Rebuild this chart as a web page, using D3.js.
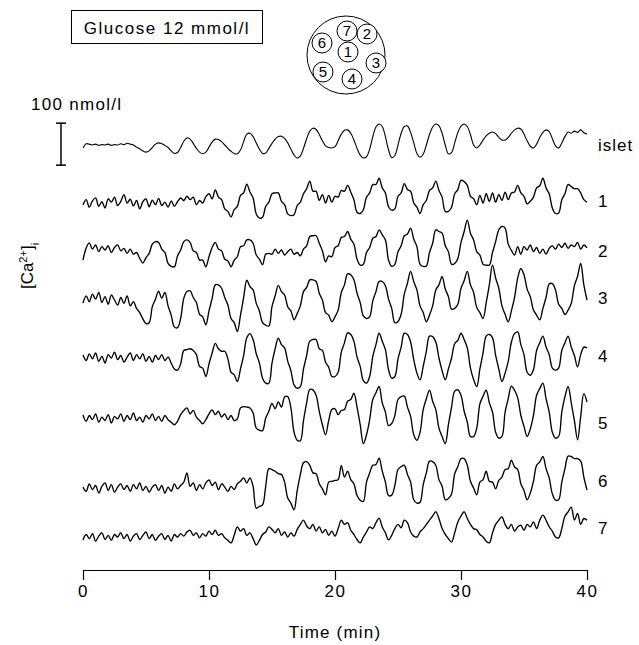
<!DOCTYPE html>
<html>
<head>
<meta charset="utf-8">
<script src="https://cdn.jsdelivr.net/npm/d3@7"></script>
<style>
  body { margin: 0; background: #fff; }
  svg text { font-family: "Liberation Sans", Arial, Helvetica, sans-serif; fill: #000; }
</style>
</head>
<body>
<svg id="chart" width="639" height="645"></svg>
<script>
// samples every 0.25 min, values are change in [Ca2+]i (nmol/l) around each trace's resting level
var timeStep = 0.25;
var traceNames = ["islet", "1", "2", "3", "4", "5", "6", "7"];
var timeTicks = [0, 10, 20, 30, 40];
var cellNumbers = ["7", "2", "6", "1", "3", "5", "4"];

var isletCa = [
  -7,3,2,0,2,-1,1,0,2,-1,
  1,0,3,1,4,2,0,-5,-9,-14,
  -17,-14,-6,2,5,3,-1,-6,-14,-20,
  -18,-6,9,17,14,4,-8,-17,-21,-17,
  -5,7,14,13,8,0,-8,-15,-20,-21,
  -12,8,26,28,20,5,-10,-20,-19,-8,
  4,14,20,21,16,5,-10,-24,-31,-26,
  -8,15,33,40,37,25,10,-2,-6,-7,
  -4,10,26,35,36,28,12,-8,-24,-31,
  -28,-10,20,43,50,44,20,-12,-30,-25,
  0,28,44,45,30,5,-20,-29,-22,0,
  25,43,50,46,28,0,-21,-18,5,30,
  45,50,44,25,0,-7,0,12,22,28,
  31,27,18,12,12,18,28,36,40,38,
  26,10,-3,-7,2,18,30,36,32,15,
  -2,-7,5,20,31,28,33,30,36,29,
  26
];

var cell1Ca = [
  -5,8,-10,5,12,-8,3,-12,10,2,
  14,-6,4,20,0,9,-7,6,-14,3,
  10,-9,7,-4,11,-6,2,-10,5,-8,
  3,12,6,16,8,14,-4,6,0,15,
  22,10,31,14,8,-14,-20,-33,-16,-8,
  18,24,45,26,12,-26,-36,-34,-8,2,
  22,24,24,4,-4,-26,-30,-28,-6,2,
  22,34,52,28,28,6,20,0,18,2,
  16,14,30,28,42,26,8,-22,-25,-16,
  14,24,44,44,59,36,24,-9,-17,-14,
  16,24,46,32,28,0,-10,-25,-4,6,
  30,36,52,30,14,-20,-20,-10,22,32,
  54,51,42,16,10,-4,18,0,22,4,
  24,2,20,6,26,8,24,26,42,24,
  16,-2,4,14,36,41,59,36,22,-12,
  -25,-24,8,22,44,39,34,34,24,8,
  2
];

var cell2Ca = [
  -24,5,17,2,12,-4,8,0,10,-6,
  6,12,-2,4,-8,2,-10,-6,-20,-31,
  -18,-8,14,20,18,2,-6,-32,-39,-40,
  -14,0,20,24,18,-2,-6,-24,-24,-40,
  -16,6,18,2,-2,-22,-26,-40,-24,-16,
  8,10,24,24,16,-12,-22,-35,-10,-8,
  -10,2,-8,0,-12,-4,2,-10,-6,-14,
  2,10,32,34,34,16,-2,-28,-14,-16,
  6,10,30,32,44,26,14,-22,-36,-34,
  -6,6,28,32,48,36,24,-24,-39,-34,
  -4,10,34,38,52,26,8,-34,-39,-38,
  -6,16,48,44,40,10,-4,-34,-32,-20,
  18,44,71,40,24,-4,-12,-34,-36,-36,
  -6,20,48,56,52,14,-1,-12,8,-10,
  8,0,12,-4,6,-8,2,-10,4,10,
  2,14,6,16,4,12,8,18,2,12,
  5
];

var cell3Ca = [
  -7,10,-4,14,2,18,-6,8,-10,12,
  0,-12,6,-8,10,-14,-4,-20,-30,-45,
  -56,-54,-16,2,21,4,18,-14,-36,-64,
  -66,-44,4,20,22,6,-6,-34,-40,-59,
  -26,4,36,36,28,6,-12,-44,-54,-75,
  -36,6,47,32,24,-8,-26,-54,-60,-62,
  -16,10,35,20,12,-16,-26,-47,-32,-14,
  20,30,48,48,44,16,0,-30,-36,-52,
  -40,-24,18,36,62,60,48,16,-6,-38,
  -44,-40,-2,20,44,44,34,2,-20,-54,
  -51,-34,14,40,68,44,24,-14,-30,-52,
  -36,-14,24,36,56,26,8,-22,-20,-10,
  28,46,68,36,18,-18,-30,-44,-6,36,
  83,52,28,-14,-34,-52,-26,6,52,75,
  60,26,8,-24,-36,-47,-20,6,38,39,
  24,-10,-20,-35,-24,-8,34,56,87,36,
  0
];

var cell4Ca = [
  7,-6,10,-2,12,-8,4,-12,8,0,
  14,-4,6,-10,2,12,-6,8,-2,10,
  -8,4,-10,6,-4,8,-6,2,-12,-26,
  -29,-14,18,20,22,18,8,-20,-24,-44,
  -14,12,35,22,16,16,-2,-34,-40,-56,
  -26,6,48,58,44,10,-12,-48,-60,-60,
  -12,22,47,32,24,-8,-30,-64,-72,-68,
  -26,6,40,44,44,22,18,-10,-22,-44,
  -44,-34,14,36,60,56,40,2,-20,-54,
  -60,-44,4,32,59,40,20,-28,-48,-44,
  -2,26,59,56,38,-4,-36,-52,-20,16,
  52,51,38,0,-30,-52,-26,0,34,42,
  59,44,24,-24,-51,-68,-26,12,52,56,
  48,6,-26,-56,-36,-8,38,58,62,32,
  8,-34,-41,-28,18,36,52,26,8,-24,
  -29,-24,18,36,52,26,6,-21,8,26,
  24
];

var cell5Ca = [
  7,-8,6,-4,10,-10,2,-6,8,-12,
  4,-2,10,-8,6,-4,12,-6,2,-10,
  6,-2,10,-6,4,-8,6,-4,-10,-16,
  -8,8,18,24,10,18,2,-6,-14,-4,
  10,19,8,16,2,10,-4,6,-6,-2,
  24,27,26,24,12,-24,-29,-30,0,16,
  35,22,38,26,50,51,24,-34,-53,-54,
  -6,36,68,67,54,16,-16,-40,-6,20,
  22,8,18,20,40,44,59,26,-16,-61,
  -40,-4,44,60,75,36,14,-18,-13,6,
  44,51,52,26,4,-40,-53,-34,20,46,
  66,40,20,-24,-44,-61,-16,26,64,67,
  54,16,-10,-44,-44,-24,34,52,66,36,
  14,-34,-48,-44,14,46,76,66,48,6,
  -20,-44,-26,6,54,70,83,46,14,-34,
  -48,-44,14,51,75,36,-6,-52,4,58,
  38
];

var cell6Ca = [
  2,-8,10,-4,6,-12,4,12,-6,8,
  -10,2,10,-4,6,-8,8,-2,12,-6,
  4,-10,2,8,-6,6,-12,2,-8,10,
  -2,6,14,36,4,12,-6,8,-2,12,
  19,6,14,-4,10,2,-8,4,-4,10,
  16,24,12,24,4,-48,-44,-40,4,46,
  44,40,34,32,14,-24,-36,-52,-6,32,
  60,63,54,36,34,10,-2,-16,14,16,
  18,20,54,26,40,20,10,-18,-29,-32,
  14,36,54,56,71,40,14,-18,-17,6,
  44,51,54,32,14,-28,-36,-34,8,36,
  64,63,54,20,4,-28,-25,-14,34,51,
  70,70,54,16,0,-16,14,20,40,16,
  14,-2,18,26,44,46,66,50,44,10,
  -6,-28,-12,16,54,62,75,46,24,-14,
  -29,-28,14,46,76,75,70,70,64,26,
  -5
];

var cell7Ca = [
  -7,6,-4,8,-10,2,10,-6,4,-8,
  6,0,10,-4,6,-10,2,8,-6,4,
  12,-4,6,-8,2,8,-6,4,-10,6,
  0,8,2,12,16,4,10,-2,8,2,
  14,6,16,4,8,-2,-8,-14,4,24,
  14,20,4,10,-4,-19,-8,6,12,24,
  18,10,20,4,12,0,10,2,18,30,
  40,26,20,30,14,24,10,18,4,14,
  2,20,40,30,34,16,6,-6,-14,0,
  12,24,20,34,45,24,10,-7,4,20,
  30,22,40,34,12,2,0,12,20,30,
  40,50,60,44,20,6,-4,-12,10,36,
  50,60,44,30,20,17,6,0,-10,-14,
  10,30,40,48,30,20,30,14,24,28,
  16,30,24,36,20,40,52,40,24,14,
  0,-2,20,50,60,71,40,56,30,44,
  40
];

var traces = [isletCa, cell1Ca, cell2Ca, cell3Ca, cell4Ca, cell5Ca, cell6Ca, cell7Ca];

// layout
var laneY = [145, 203, 250, 300, 358, 418, 488, 537];
var labelY = [145, 201, 251, 298, 356, 423, 481, 528];
var axisY = 570;
var font = 17;

var svg = d3.select("#chart");

var x = d3.scaleLinear().domain([0, 40]).range([83, 587]);
// 100 nmol/l spans 42 px
var dy = d3.scaleLinear().domain([0, 100]).range([0, -42]);

var line = d3.line()
  .x(function(d, i) { return x(i * timeStep); })
  .y(function(d) { return dy(d); })
  .curve(d3.curveCatmullRom.alpha(0.5));

var lanes = svg.selectAll("g.lane")
  .data(traces)
  .enter()
    .append("g")
      .attr("class", "lane")
      .attr("transform", function(d, i) { return "translate(0," + laneY[i] + ")"; });

lanes.append("path")
  .attr("fill", "none")
  .attr("stroke", "#000")
  .attr("stroke-width", function(d, i) { return i === 0 ? 1.1 : 1.35; })
  .attr("stroke-linejoin", "round")
  .attr("d", line);

svg.selectAll("text.name")
  .data(traceNames)
  .enter()
    .append("text")
      .attr("class", "name")
      .attr("x", 598)
      .attr("y", function(d, i) { return labelY[i]; })
      .attr("dy", "0.35em")
      .style("font-size", font + "px")
      .style("letter-spacing", "1px")
      .text(function(d) { return d; });

// time axis
var axis = svg.append("g")
  .attr("transform", "translate(0," + axisY + ")")
  .call(d3.axisBottom(x).tickValues(timeTicks).tickSize(10).tickSizeOuter(0).tickPadding(5));
axis.select(".domain").attr("stroke", "#000").attr("stroke-width", 1.2);
axis.selectAll(".tick line").attr("stroke", "#000").attr("stroke-width", 1.2);
axis.selectAll(".tick text")
  .attr("fill", "#000")
  .style("font-family", "\"Liberation Sans\", Arial, sans-serif")
  .style("font-size", font + "px")
  .style("letter-spacing", "1.5px");

svg.append("text")
  .attr("x", 335)
  .attr("y", 638)
  .attr("text-anchor", "middle")
  .style("font-size", font + "px")
  .style("letter-spacing", "1.2px")
  .text("Time (min)");

// y label
var yl = svg.append("text")
  .attr("transform", "translate(33,266) rotate(-90)")
  .attr("text-anchor", "middle")
  .style("font-size", font + "px");
yl.append("tspan").text("[Ca");
yl.append("tspan").attr("baseline-shift", "super").style("font-size", "11px").text("2+");
yl.append("tspan").text("]");
yl.append("tspan").attr("baseline-shift", "sub").style("font-size", "11px").text("i");

// scale bar
var bar = svg.append("g").attr("stroke", "#000").attr("stroke-width", 1.5);
bar.append("line").attr("x1", 61).attr("x2", 61).attr("y1", laneY[0] + dy(52)).attr("y2", laneY[0] + dy(-48));
bar.append("line").attr("x1", 56).attr("x2", 66).attr("y1", laneY[0] + dy(52)).attr("y2", laneY[0] + dy(52));
bar.append("line").attr("x1", 56).attr("x2", 66).attr("y1", laneY[0] + dy(-48)).attr("y2", laneY[0] + dy(-48));
svg.append("text")
  .attr("x", 31)
  .attr("y", 110)
  .style("font-size", font + "px")
  .style("letter-spacing", "1.3px")
  .text("100 nmol/l");

// glucose box
svg.append("rect")
  .attr("x", 71.5).attr("y", 10.5).attr("width", 191).attr("height", 33)
  .attr("fill", "none").attr("stroke", "#000").attr("stroke-width", 1);
svg.append("text")
  .attr("x", 167)
  .attr("y", 34)
  .attr("text-anchor", "middle")
  .style("font-size", font + "px")
  .style("letter-spacing", "1.5px")
  .text("Glucose 12 mmol/l");

// islet schematic
var cellPos = [[347, 31], [367, 34], [322, 43], [348, 52], [376, 63], [323, 72], [352, 79]];
var schem = svg.append("g");
schem.append("circle")
  .attr("cx", 346).attr("cy", 55).attr("r", 39)
  .attr("fill", "none").attr("stroke", "#000").attr("stroke-width", 1);
var cells = schem.selectAll("g.cell")
  .data(cellNumbers)
  .enter()
    .append("g")
      .attr("class", "cell")
      .attr("transform", function(d, i) { return "translate(" + cellPos[i][0] + "," + cellPos[i][1] + ")"; });
cells.append("circle")
  .attr("r", 10)
  .attr("fill", "#fff").attr("stroke", "#000").attr("stroke-width", 1);
cells.append("text")
  .attr("text-anchor", "middle")
  .attr("dy", "0.36em")
  .style("font-size", "15px")
  .text(function(d) { return d; });
</script>
</body>
</html>
